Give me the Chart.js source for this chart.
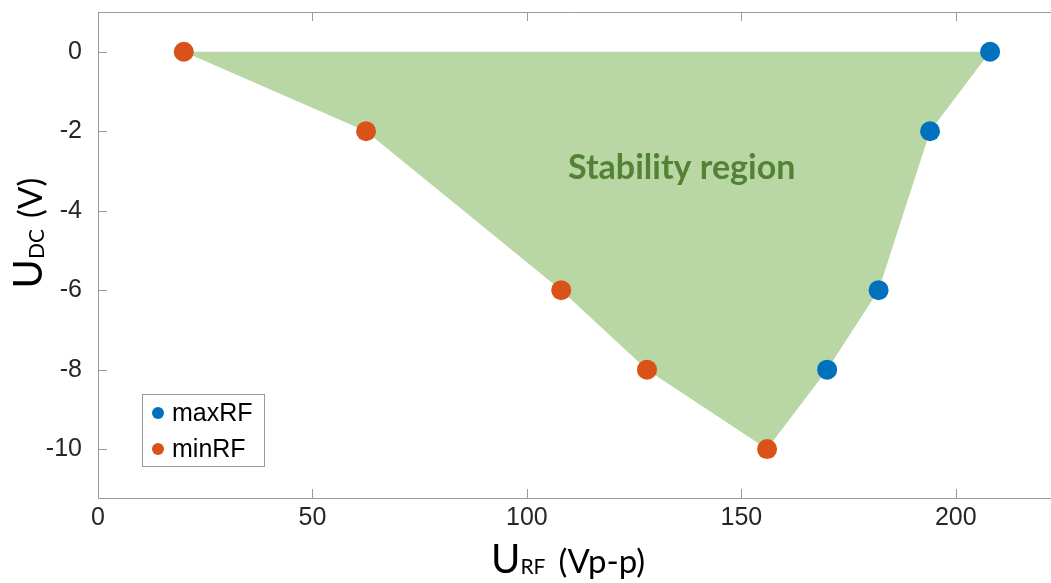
<!DOCTYPE html>
<html>
<head>
<meta charset="utf-8">
<script src="https://cdn.jsdelivr.net/npm/chart.js@4.4.1/dist/chart.umd.min.js"></script>
<style>
  html, body { margin: 0; padding: 0; background: #fff; overflow: hidden; }
  canvas { display: block; }
</style>
</head>
<body>
<canvas id="stability-chart" width="1051" height="583"></canvas>
<script>
// measured points: U_RF (Vp-p) against U_DC (V)
const maxRfX = [208, 194, 182, 170];
const maxRfY = [0, -2, -6, -8];
const minRfX = [20, 62.5, 108, 128, 156];
const minRfY = [0, -2, -6, -8, -10];

const xTicks = [0, 50, 100, 150, 200];
const yTicks = [0, -2, -4, -6, -8, -10];

const blue = "#0072BD";
const orange = "#D95319";
const regionFill = "#b8d7a5";
const axisColor = "#9a9a9a";
const tickFont = {family: "'Liberation Sans', Arial, sans-serif", size: 25};
const titleFamily = "Lato, 'Open Sans', sans-serif";

const toPoints = (xs, ys) => xs.map((x, i) => ({x: x, y: ys[i]}));
const maxPts = toPoints(maxRfX, maxRfY);
const minPts = toPoints(minRfX, minRfY);
// outline of the region: down along minRF, then back up along maxRF
const regionPts = minPts.concat(maxPts.slice().reverse());

// draws a run of text pieces (with subscripts) centred on 0,0 baseline
function richText(ctx, parts) {
  let w = 0;
  parts.forEach(p => { ctx.font = p.font; p.w = ctx.measureText(p.text).width + (p.dx || 0); w += p.w; });
  let cx = -w / 2;
  ctx.textAlign = "left";
  ctx.textBaseline = "alphabetic";
  parts.forEach(p => {
    ctx.font = p.font;
    ctx.fillText(p.text, cx + (p.dx || 0), p.dy || 0);
    cx += p.w;
  });
}

const decor = {
  id: "decor",
  afterDraw(chart) {
    const {ctx, chartArea: a, scales: {x, y}} = chart;
    ctx.save();

    // box top line and inward tick marks
    ctx.strokeStyle = axisColor;
    ctx.lineWidth = 1;
    ctx.beginPath();
    ctx.moveTo(a.left, a.top + 0.5);
    ctx.lineTo(a.right, a.top + 0.5);
    xTicks.forEach(v => {
      const px = Math.round(x.getPixelForValue(v)) + 0.5;
      ctx.moveTo(px, a.bottom); ctx.lineTo(px, a.bottom - 9);
      ctx.moveTo(px, a.top); ctx.lineTo(px, a.top + 9);
    });
    yTicks.forEach(v => {
      const py = Math.round(y.getPixelForValue(v)) + 0.5;
      ctx.moveTo(a.left, py); ctx.lineTo(a.left + 9, py);
    });
    ctx.stroke();

    // region label
    ctx.fillStyle = "#548235";
    ctx.font = "bold 34px " + titleFamily;
    ctx.textAlign = "center";
    ctx.textBaseline = "alphabetic";
    ctx.fillText("Stability region", x.getPixelForValue(136.1), y.getPixelForValue(-3.19));

    // axis titles
    ctx.fillStyle = "#000";
    ctx.save();
    ctx.translate(568, 573);
    richText(ctx, [
      {text: "U", font: "40px " + titleFamily},
      {text: "RF", font: "21px " + titleFamily, dy: 1},
      {text: "(Vp-p)", font: "33px " + titleFamily, dx: 13}
    ]);
    ctx.restore();
    ctx.save();
    ctx.translate(42, 233);
    ctx.rotate(-Math.PI / 2);
    richText(ctx, [
      {text: "U", font: "40px " + titleFamily},
      {text: "DC", font: "21px " + titleFamily, dy: 2},
      {text: "(V)", font: "33px " + titleFamily, dx: 11}
    ]);
    ctx.restore();

    // legend box in the lower left corner
    const lx = a.left + 44, ly = a.bottom - 104, lw = 122, lh = 72;
    ctx.fillStyle = "#fff";
    ctx.fillRect(lx, ly, lw, lh);
    ctx.strokeStyle = axisColor;
    ctx.strokeRect(lx + 0.5, ly + 0.5, lw, lh);
    const entries = chart.data.datasets.filter(d => d.label);
    entries.forEach((d, i) => {
      const cy = ly + 19 + i * 36;
      ctx.fillStyle = d.backgroundColor;
      ctx.beginPath();
      ctx.arc(lx + 16, cy, 6, 0, Math.PI * 2);
      ctx.fill();
      ctx.fillStyle = "#000";
      ctx.font = "25px 'Liberation Sans', Arial, sans-serif";
      ctx.textAlign = "left";
      ctx.textBaseline = "middle";
      ctx.fillText(d.label, lx + 30, cy + 1);
    });

    ctx.restore();
  }
};

new Chart("stability-chart", {
  type: "scatter",
  data: {
    datasets: [
      {
        label: "maxRF",
        data: maxPts,
        backgroundColor: blue,
        borderColor: blue,
        pointRadius: 10,
        pointHoverRadius: 10,
        borderWidth: 0,
        order: 0
      },
      {
        label: "minRF",
        data: minPts,
        backgroundColor: orange,
        borderColor: orange,
        pointRadius: 10,
        pointHoverRadius: 10,
        borderWidth: 0,
        order: 0
      },
      {
        data: regionPts,
        showLine: true,
        fill: "origin",
        backgroundColor: regionFill,
        borderColor: regionFill,
        borderWidth: 0,
        pointRadius: 0,
        pointHoverRadius: 0,
        tension: 0,
        order: 1
      }
    ]
  },
  options: {
    responsive: false,
    animation: false,
    layout: {autoPadding: false, padding: {top: 12, left: 0, right: 0, bottom: 0}},
    plugins: {
      legend: {display: false},
      tooltip: {enabled: false}
    },
    scales: {
      x: {
        type: "linear",
        min: 0,
        max: 222.2,
        afterBuildTicks: s => { s.ticks = xTicks.map(v => ({value: v})); },
        afterFit: s => { s.height = 85; s.paddingLeft = 0; s.paddingRight = 0; },
        grid: {display: false},
        border: {display: true, color: axisColor, width: 1},
        ticks: {color: "#262626", font: tickFont, padding: -3, maxRotation: 0}
      },
      y: {
        type: "linear",
        min: -11.23,
        max: 1,
        afterBuildTicks: s => { s.ticks = yTicks.map(v => ({value: v})); },
        afterFit: s => { s.width = 98; s.paddingTop = 0; s.paddingBottom = 0; },
        grid: {display: false},
        border: {display: true, color: axisColor, width: 1},
        ticks: {color: "#262626", font: tickFont, padding: 8}
      }
    }
  },
  plugins: [decor]
});
</script>
</body>
</html>
